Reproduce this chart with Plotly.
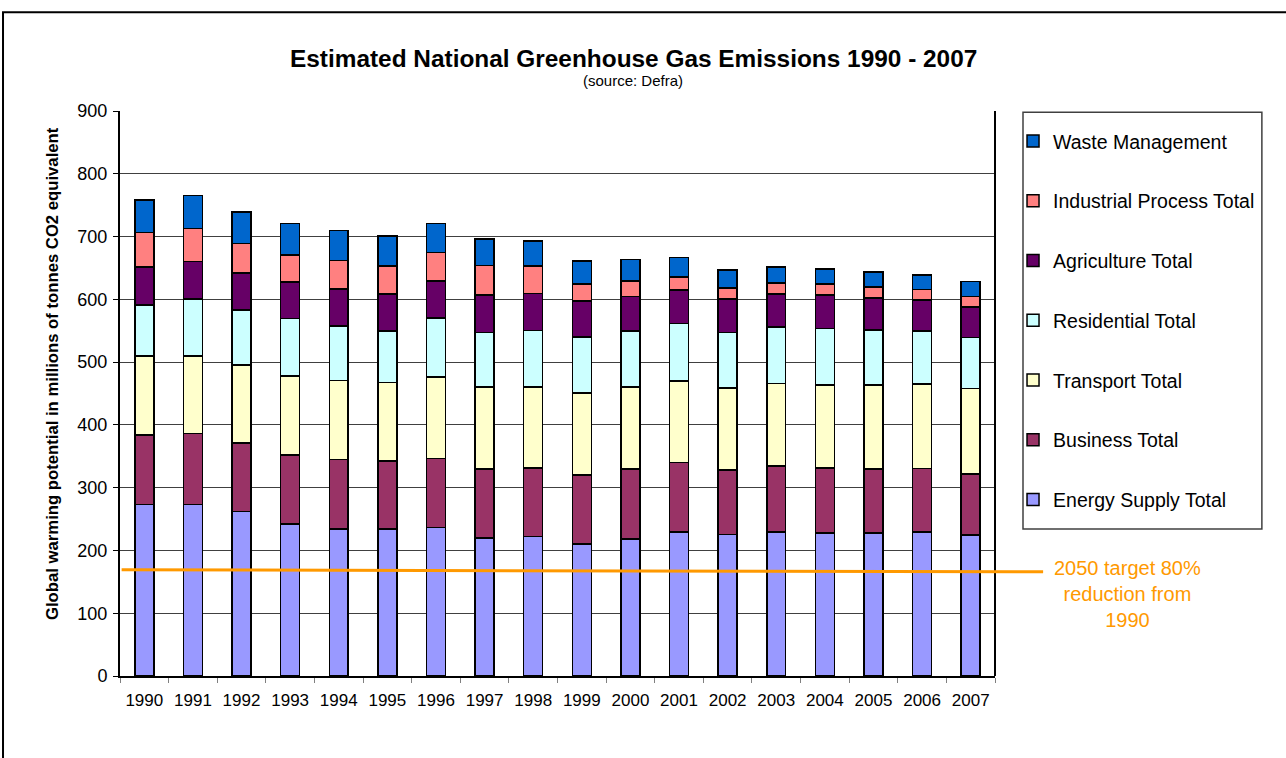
import plotly.graph_objects as go

years = [str(y) for y in range(1990, 2008)]

energy_supply = [273.5, 273.5, 262.3, 242.5, 234.5, 234.5, 236.7, 220.1, 222.3, 210.0,
                 218.6, 229.2, 225.5, 229.7, 228.1, 228.1, 229.7, 224.4]
business = [110.8, 113.0, 108.7, 109.3, 110.4, 107.7, 109.8, 109.3, 109.3, 109.8,
            111.4, 110.9, 102.9, 104.5, 102.9, 101.3, 100.8, 97.0]
transport = [125.3, 123.1, 124.7, 125.8, 125.8, 125.3, 129.5, 130.6, 129.0, 131.2,
             130.0, 129.5, 130.6, 131.7, 132.2, 133.8, 134.3, 136.5]
residential = [81.0, 90.6, 87.5, 91.7, 86.9, 82.1, 94.4, 87.4, 90.0, 89.0,
               89.6, 92.2, 88.4, 90.1, 90.6, 88.0, 84.8, 81.5]
agriculture = [60.8, 60.2, 58.6, 58.1, 58.6, 58.6, 59.1, 59.2, 58.7, 57.5,
               54.9, 52.8, 52.8, 52.2, 52.8, 50.6, 49.0, 48.0]
industrial = [54.9, 52.3, 46.9, 43.2, 45.3, 44.8, 44.8, 47.4, 44.2, 26.7,
              25.0, 20.8, 18.1, 18.1, 18.1, 18.1, 17.1, 17.1]
waste = [52.2, 52.8, 50.6, 50.1, 48.5, 48.0, 46.4, 42.2, 39.5, 36.8,
         33.6, 30.9, 28.3, 25.1, 23.5, 23.5, 22.9, 24.0]

series = [
    ("Energy Supply Total", energy_supply, "#9999FF"),
    ("Business Total", business, "#993366"),
    ("Transport Total", transport, "#FFFFCC"),
    ("Residential Total", residential, "#CCFFFF"),
    ("Agriculture Total", agriculture, "#660066"),
    ("Industrial Process Total", industrial, "#FF8080"),
    ("Waste Management", waste, "#0066CC"),
]

# 2050 target level (80% reduction from 1990), drawn across the chart
target_line = [169, 166]
target_text = "2050 target 80%<br>reduction from<br>1990"

fig = go.Figure()
for i, (name, vals, color) in enumerate(series):
    fig.add_trace(go.Bar(
        x=years, y=vals, name=name, width=0.39,
        marker=dict(color=color, line=dict(color="black", width=1.5)),
        legendgroup=name, legendrank=100 - i,
    ))

fig.update_layout(
    barmode="stack",
    width=1286, height=758,
    margin=dict(l=120, r=291, t=111, b=82),
    paper_bgcolor="white", plot_bgcolor="white",
    font=dict(family="Liberation Sans, Arial, sans-serif", color="black"),
    legend=dict(
        traceorder="grouped",
        x=1.0206, xanchor="left", y=0.981, yanchor="top",
        borderwidth=0, bgcolor="rgba(0,0,0,0)",
        font=dict(size=19.5),
        tracegroupgap=31.4,
        itemwidth=30,
    ),
    xaxis=dict(
        showline=True, linecolor="black", linewidth=2,
        ticks="outside", tickson="boundaries", ticklen=5, tickcolor="#808080",
        tickfont=dict(size=17), ticklabelstandoff=8,
    ),
    yaxis=dict(
        range=[0, 900], dtick=100,
        showline=True, linecolor="black", linewidth=2,
        ticks="outside", ticklen=5, tickcolor="black",
        gridcolor="#404040", gridwidth=1,
        tickfont=dict(size=18), ticklabelstandoff=2,
        zeroline=False,
    ),
    bargap=0.6,
)

# right-hand frame of the plot area
fig.add_shape(type="line", xref="paper", yref="paper", x0=1, x1=1, y0=0, y1=1,
              line=dict(color="black", width=2))
# legend frame
fig.add_shape(type="rect", xref="paper", yref="paper",
              x0=1.032, x1=1.305, y0=0.2602, y1=0.998,
              line=dict(color="#404040", width=1.5))
# outer chart frame
fig.add_shape(type="rect", xref="paper", yref="paper",
              x0=-0.1337, x1=1.34, y0=-0.16, y1=1.175,
              line=dict(color="black", width=2), layer="above")

# target line: plain arrow (no head) running from the left axis past the plot edge
fig.add_annotation(text="", xref="paper", yref="y", x=1.055, y=target_line[1],
                   showarrow=True, arrowhead=0, arrowwidth=3, arrowcolor="#FF9900",
                   axref="pixel", ayref="pixel", ax=-923, ay=-2, standoff=0,
                   startstandoff=0)
fig.add_annotation(text=target_text, xref="paper", yref="y", x=1.151, y=130.6,
                   xanchor="center", yanchor="middle",
                   showarrow=False, font=dict(size=20, color="#FF9900"),
                   align="center")

# axis title, centred on the chart body
fig.add_annotation(text="<b>Global warming potential in millions of tonnes CO2 equivalent</b>",
                   xref="paper", yref="paper", x=-0.0777, y=0.5345, textangle=-90,
                   xanchor="center", yanchor="middle",
                   showarrow=False, font=dict(size=16.7))

fig.add_annotation(text="<b>Estimated National Greenhouse Gas Emissions 1990 - 2007</b>",
                   xref="paper", yref="paper", x=0.5863, y=1.0, yshift=53,
                   xanchor="center", yanchor="middle",
                   showarrow=False, font=dict(size=24.4))
fig.add_annotation(text="(source: Defra)",
                   xref="paper", yref="paper", x=0.5863, y=1.0, yshift=31,
                   xanchor="center", yanchor="middle",
                   showarrow=False, font=dict(size=15))

fig.write_html("out.html")
